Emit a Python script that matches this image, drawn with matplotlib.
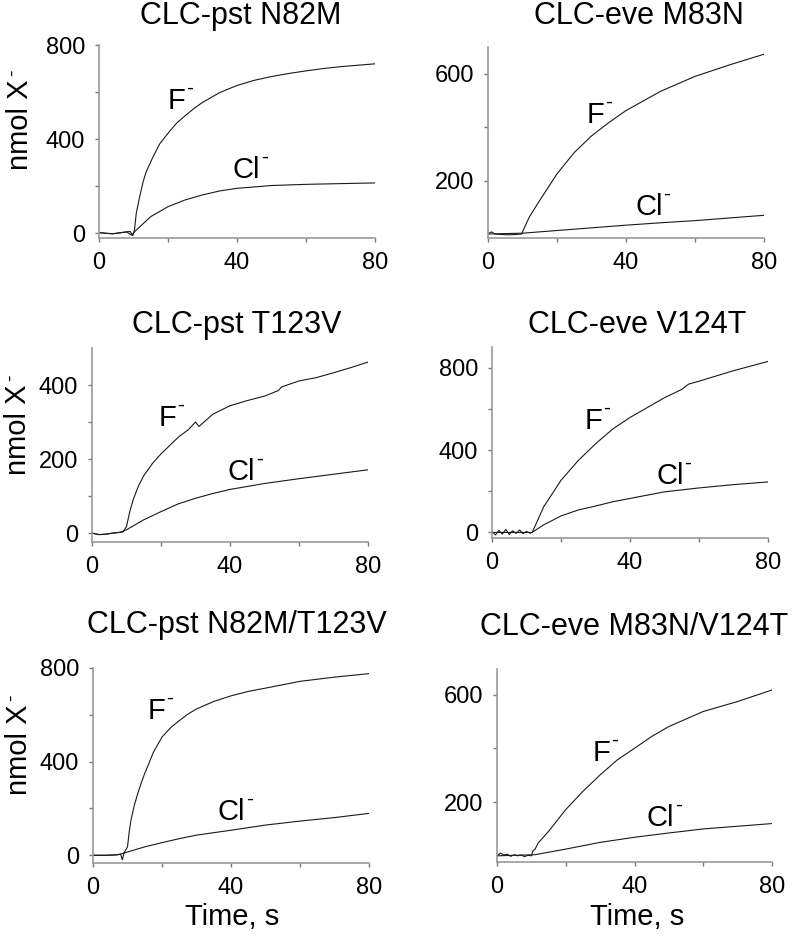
"""CLC 突变体 F- / Cl- 转运时间曲线 (3x2 面板)。"""
import matplotlib

matplotlib.use("Agg")
import matplotlib.pyplot as plt
from matplotlib.transforms import offset_copy

# ---- data (time in s, nmol X-) ----
# CLC-pst N82M
T_F_1 = [0, 2, 4, 6, 8, 9, 9.8, 10.3, 10.8, 11.8, 12.8, 13.7, 15.7, 17.6, 20, 22.5, 25, 27.5, 30, 35, 40, 45, 50, 55, 60, 65, 70, 75, 80]
F_1 = [3, 0, -2, 2, 6, 8, -10, 15, 85, 156, 220, 262, 326, 380, 425, 468, 500, 530, 556, 598, 628, 650, 666, 679, 690, 700, 708, 714, 720]
T_CL_1 = [0, 2, 4, 6, 8, 9.5, 10, 12, 15, 20, 25, 30, 35, 40, 50, 60, 70, 80]
CL_1 = [3, 0, -2, 2, 6, -8, 2, 30, 71, 113, 142, 163, 180, 191, 203, 208, 211, 214]

# CLC-eve M83N
T_F_2 = [0, 1, 2, 4, 6, 8, 9.8, 10.2, 12, 15, 20, 25, 30, 35, 40, 50, 60, 70, 80]
F_2 = [0, 8, 0, -2, -3, -2, 0, 14, 64, 126, 225, 305, 367, 417, 462, 534, 590, 633, 673]
T_CL_2 = [0, 10, 20, 30, 40, 50, 60, 70, 80]
CL_2 = [0, 3, 13, 23, 33, 42, 50, 60, 70]

# CLC-pst T123V
T_F_3 = [0, 2, 4, 6, 8, 9, 10, 11, 12, 13.5, 15, 17.5, 20, 25, 28, 30, 31, 35, 40, 45, 50, 54, 55, 60, 65, 70, 75, 80]
F_3 = [0, -4, -3, 0, 2, 3, 18, 60, 92, 128, 155, 188, 214, 259, 280, 300, 288, 321, 344, 358, 370, 385, 395, 411, 420, 433, 447, 462]
T_CL_3 = [0, 2, 4, 6, 8, 10, 15, 20, 25, 30, 35, 40, 50, 60, 70, 80]
CL_3 = [0, -4, -3, 0, 2, 9, 36, 58, 79, 94, 107, 118, 134, 147, 159, 171]

# CLC-eve V124T
T_F_4 = [0, 1, 2, 3, 4, 5, 6, 7, 8, 9, 10, 11, 11.6, 12, 15, 20, 25, 30, 35, 40, 45, 50, 55, 57, 60, 70, 80]
F_4 = [5, -12, 10, -8, 15, -10, 8, -5, 12, -6, 5, -4, 0, 13, 125, 253, 349, 430, 502, 558, 606, 654, 694, 720, 734, 785, 830]
T_CL_4 = [0, 11.6, 15, 20, 25, 30, 35, 40, 50, 60, 70, 80]
CL_4 = [0, 0, 37, 80, 109, 128, 149, 165, 197, 216, 232, 245]

# CLC-pst N82M/T123V
T_F_5 = [0, 4, 7, 8, 8.5, 9, 10, 10.5, 11, 12, 13, 14, 15, 16, 17.5, 20, 22.5, 25, 27.5, 30, 35, 40, 45, 50, 60, 70, 80]
F_5 = [0, 0, 2, 5, -19, 10, 36, 100, 150, 215, 265, 310, 350, 385, 440, 505, 545, 575, 603, 625, 657, 681, 700, 714, 743, 761, 776]
T_CL_5 = [0, 4, 7, 8, 10, 15, 20, 25, 30, 40, 50, 60, 70, 80]
CL_5 = [0, 0, 2, 5, 14, 36, 54, 71, 86, 107, 129, 146, 161, 179]

# CLC-eve M83N/V124T
T_F_6 = [0, 1, 2, 3, 4, 5, 6, 7, 8, 9, 10, 10.5, 11, 12, 15, 20, 25, 30, 35, 40, 45, 50, 60, 70, 80]
F_6 = [0, 10, 3, 6, -2, 4, 0, 3, -3, 2, 0, 20, 23, 48, 91, 172, 240, 301, 357, 400, 444, 481, 537, 574, 617]
T_CL_6 = [0, 11, 20, 30, 40, 50, 60, 70, 80]
CL_6 = [0, 4, 25, 50, 69, 85, 100, 110, 120]

TITLES = ["CLC-pst N82M", "CLC-eve M83N", "CLC-pst T123V",
          "CLC-eve V124T", "CLC-pst N82M/T123V", "CLC-eve M83N/V124T"]
Y_TICKS = [[0, 200, 400, 600, 800], [200, 400, 600], [0, 100, 200, 300, 400],
           [0, 200, 400, 600, 800], [0, 200, 400, 600, 800], [200, 400, 600]]
X_TICKS = [0, 20, 40, 60, 80]

plt.rcParams["font.family"] = ["Liberation Sans", "DejaVu Sans"]

W, H = 800, 940
fig = plt.figure(figsize=(W / 100, H / 100), dpi=100)


def px_axes(l, r, t, b):
    return fig.add_axes([l / W, 1 - b / H, (r - l) / W, (b - t) / H])


def ion_label(ax, x, y, base, base_w):
    """离子符号 + 短横上标 (base_w: 主体字宽, pt)。"""
    ax.text(x, y, base, fontsize=21, ha="left", va="baseline")
    tr = offset_copy(ax.transData, fig=fig, x=base_w + 0.5, y=11, units="points")
    ax.text(x, y, "-", fontsize=15, ha="left", va="baseline", transform=tr)


# axes boxes in pixels (left, right, top, bottom), ylim, label spots
boxes = [(99, 375, 45, 238), (488, 764, 47, 238), (92, 368, 348, 542),
         (492, 768, 347, 538), (93, 369, 668, 863), (497, 772, 669, 862)]
ylims = [(-20, 800), (-15, 700), (-24, 500), (-27, 900), (-33, 800), (-23, 695)]
f_pos = [(19.8, 527), (28.7, 417), (19.3, 290), (26.9, 502), (15.9, 581), (27.9, 351)]
cl_pos = [(38.8, 234), (42.7, 70), (39.3, 143), (47.6, 237), (36.2, 150), (43.5, 110)]
title_xy = [(241, 24), (639, 24), (237, 333), (637, 333), (237, 633), (634, 635)]

traces = [(T_F_1, F_1, T_CL_1, CL_1), (T_F_2, F_2, T_CL_2, CL_2),
          (T_F_3, F_3, T_CL_3, CL_3), (T_F_4, F_4, T_CL_4, CL_4),
          (T_F_5, F_5, T_CL_5, CL_5), (T_F_6, F_6, T_CL_6, CL_6)]

for i, (tf, f, tc, c) in enumerate(traces):
    ax = px_axes(*boxes[i])
    ax.plot(tf, f, color="#1a1a1a", lw=0.8)
    ax.plot(tc, c, color="#1a1a1a", lw=0.8)
    ax.set_xlim(0, 80); ax.set_ylim(*ylims[i])
    ax.set_xticks(X_TICKS)
    ax.set_xticklabels([str(v) if j % 2 == 0 else "" for j, v in enumerate(X_TICKS)])
    yt = Y_TICKS[i]
    ax.set_yticks(yt)
    ax.set_yticklabels([str(v) if j % 2 == 0 else "" for j, v in enumerate(yt)])
    for s in ("top", "right"):
        ax.spines[s].set_visible(False)
    for s in ("left", "bottom"):
        ax.spines[s].set_color("#999999"); ax.spines[s].set_linewidth(1.2)
    ax.tick_params(direction="out", length=3, width=1, color="#777777",
                   labelsize=17, pad=7)
    ion_label(ax, *f_pos[i], "F", 12.8)
    ion_label(ax, *cl_pos[i], "Cl", 19.8)
    tx, ty = title_xy[i]
    fig.text(tx / W, 1 - ty / H, TITLES[i], fontsize=22, ha="center", va="baseline")

for x, y in [(20, 125), (18, 430), (19, 750)]:
    fig.text(x / W, 1 - y / H, "nmol X", fontsize=21, rotation=90,
             ha="center", va="center")
    # superscript dash, just past the top end of the rotated label
    fig.text((x - 8) / W, 1 - (y - 52) / H, "-", fontsize=14, rotation=90,
             ha="center", va="center")
for x in (232, 637):
    fig.text(x / W, 1 - 925 / H, "Time, s", fontsize=21, ha="center", va="baseline")

fig.savefig("out.png", dpi=100, facecolor="white")
